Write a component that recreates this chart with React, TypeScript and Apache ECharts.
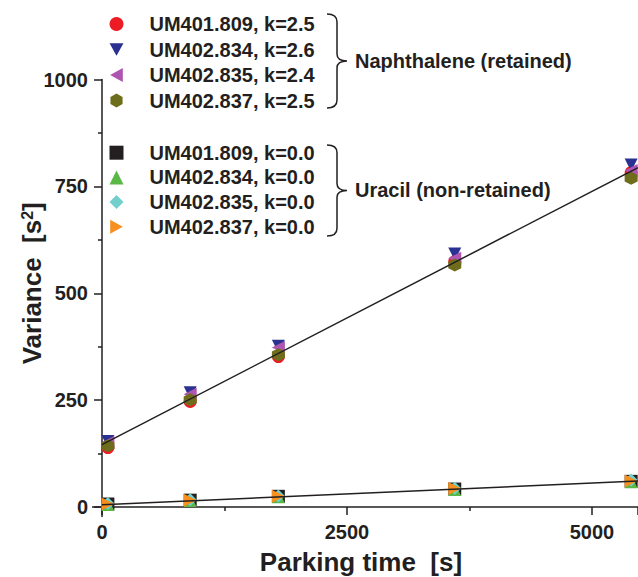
import React, { useEffect, useRef } from "react";
import * as echarts from "echarts";

// Parking time of the sample before elution [s]
const parkingTime = [60, 900, 1800, 3600, 5400];

// Retained compound (naphthalene), peak variance [s^2]
const naphNames = ["UM401.809, k=2.5", "UM402.834, k=2.6", "UM402.835, k=2.4", "UM402.837, k=2.5"];
const naph401_809 = [139, 247, 352, 574, 782];
const naph402_834 = [153, 267, 376, 592, 800];
const naph402_835 = [151, 264, 373, 582, 787];
const naph402_837 = [143, 251, 356, 566, 769];

// Non-retained marker (uracil), peak variance [s^2]
const uracilNames = ["UM401.809, k=0.0", "UM402.834, k=0.0", "UM402.835, k=0.0", "UM402.837, k=0.0"];
const ura401_809 = [7, 16, 25, 42, 60];
const ura402_834 = [6, 15, 24, 41, 59];
const ura402_835 = [8, 17, 26, 44, 63];
const ura402_837 = [7, 16, 25, 43, 61];

// Linear fits: end points of each line
const fitTime = [0, 5470];
const naphFit = [146, 794];
const uracilFit = [5, 61];

// Axis ranges
const xRange = [0, 5470];
const xStep = 2500;
const yRange = [0, 1000];
const yStep = 250;

const INK = "#231f20";
const FONT = "'Liberation Sans', Arial, Helvetica, sans-serif";

const naphColors = ["#ed1c24", "#2b3190", "#ad55b0", "#6e6d1c"];
const uracilColors = ["#231f20", "#5ab946", "#72cfcc", "#f7901e"];

const HEX = "path://M0,-1 L0.866,-0.5 L0.866,0.5 L0,1 L-0.866,0.5 L-0.866,-0.5 Z";
const DOWN = "path://M-1,-0.9 L1,-0.9 L0,0.9 Z";
const LEFT = "path://M-0.9,0 L0.9,-1 L0.9,1 Z";
const RIGHT = "path://M0.9,0 L-0.9,-1 L-0.9,1 Z";

const naphSymbols = ["circle", DOWN, LEFT, HEX];
const uracilSymbols = ["rect", "triangle", "diamond", RIGHT];

const naphValues = [naph401_809, naph402_834, naph402_835, naph402_837];
const uracilValues = [ura401_809, ura402_834, ura402_835, ura402_837];

// Plot frame
const GRID_LEFT = 102;
const GRID_TOP = 79.5;
const GRID_BOTTOM = 70;
const W = 638;
const H = 577;

let braceRegistered = false;
function registerBrace() {
  if (braceRegistered) return;
  // right-facing curly brace, 20 wide and 94 tall
  const d =
    "M0,0 C6,0 10,2 10,8 L10,40 C10,45 13,47 20,47 C13,47 10,49 10,54 L10,86 C10,92 6,94 0,94";
  echarts.graphic.registerShape("brace", echarts.graphic.extendPath(d, {}));
  braceRegistered = true;
}

function pairs(values: number[]) {
  return parkingTime.map((t, i) => [t, values[i]]);
}

export default function App() {
  const ref = useRef<HTMLDivElement>(null);

  useEffect(() => {
    if (!ref.current) return;
    registerBrace();
    const chart = echarts.init(ref.current, undefined, { renderer: "svg" });

    const scatter = (names: string[], values: number[][], colors: string[], symbols: string[]) =>
      names.map((name, i) => ({
        name,
        type: "scatter",
        data: pairs(values[i]),
        symbol: symbols[i],
        symbolSize: 13,
        itemStyle: { color: colors[i], opacity: 1 },
        z: 2,
      }));

    const fitLine = (values: number[]) => ({
      type: "line",
      data: fitTime.map((t, i) => [t, values[i]]),
      showSymbol: false,
      symbol: "none",
      lineStyle: { color: INK, width: 1.5 },
      z: 3,
      silent: true,
    });

    const legendBase = {
      orient: "vertical",
      left: 109.5,
      padding: 0,
      itemWidth: 14,
      itemHeight: 14,
      textStyle: {
        color: INK,
        fontFamily: FONT,
        fontWeight: "bold",
        fontSize: 20,
        lineHeight: 20,
        padding: [0, 0, 0, 21],
      },
      selectedMode: false,
    };

    const axisTitle = { color: INK, fontFamily: FONT, fontWeight: "bold" };
    const gridBottomY = H - GRID_BOTTOM;
    const plain = (v: number) => String(v);

    chart.setOption({
      animation: false,
      backgroundColor: "#ffffff",
      grid: {
        left: GRID_LEFT,
        right: 0,
        top: GRID_TOP,
        bottom: GRID_BOTTOM,
        containLabel: false,
        outerBoundsMode: "none",
      },
      legend: [
        { ...legendBase, top: 14, itemGap: 5.5, data: naphNames },
        { ...legendBase, top: 142.7, itemGap: 4.7, data: uracilNames },
      ],
      xAxis: {
        type: "value",
        min: xRange[0],
        max: xRange[1],
        interval: xStep,
        splitLine: { show: false },
        axisLine: { onZero: false, lineStyle: { color: INK, width: 1.5 } },
        axisTick: { inside: false, length: 8, lineStyle: { color: INK, width: 1.5 } },
        minorTick: { show: true, splitNumber: 2, length: 4, lineStyle: { color: INK, width: 1.5 } },
        axisLabel: {
          margin: 15,
          color: INK,
          fontFamily: FONT,
          fontWeight: "bold",
          fontSize: 20,
          showMaxLabel: false,
          formatter: plain,
        },
        name: "Parking time  [s]",
        nameLocation: "middle",
        nameGap: 42,
        nameTextStyle: { ...axisTitle, fontSize: 26, padding: [0, 18, 0, 0] },
      },
      yAxis: {
        type: "value",
        min: yRange[0],
        max: yRange[1],
        interval: yStep,
        splitLine: { show: false },
        axisLine: { onZero: false, lineStyle: { color: INK, width: 1.5 } },
        axisTick: { inside: false, length: 8, lineStyle: { color: INK, width: 1.5 } },
        minorTick: { show: true, splitNumber: 2, length: 4, lineStyle: { color: INK, width: 1.5 } },
        axisLabel: {
          margin: 14,
          color: INK,
          fontFamily: FONT,
          fontWeight: "bold",
          fontSize: 20,
          formatter: plain,
        },
        name: "Variance  [s{sup|2}]",
        nameLocation: "middle",
        nameRotate: 90,
        nameGap: 57,
        nameMoveOverlap: false,
        nameTextStyle: {
          ...axisTitle,
          fontSize: 26,
          padding: [0, 0, 0, 20],
          rich: {
            sup: {
              fontFamily: FONT,
              fontWeight: "bold",
              fontSize: 16,
              color: INK,
              verticalAlign: "top",
              padding: [0, 0, 8, 0],
            },
          },
        },
      },
      graphic: [
        // short axis-line stubs running past the origin
        {
          type: "line",
          shape: { x1: GRID_LEFT - 10, y1: gridBottomY, x2: GRID_LEFT, y2: gridBottomY },
          style: { stroke: INK, lineWidth: 1.5 },
        },
        {
          type: "line",
          shape: { x1: GRID_LEFT, y1: gridBottomY, x2: GRID_LEFT, y2: gridBottomY + 10 },
          style: { stroke: INK, lineWidth: 1.5 },
        },
        {
          type: "brace",
          x: 327,
          y: 14,
          style: { stroke: INK, lineWidth: 1.5, fill: "none" },
        },
        {
          type: "brace",
          x: 327,
          y: 145,
          scaleY: 0.968,
          style: { stroke: INK, lineWidth: 1.5, fill: "none" },
        },
        {
          type: "text",
          x: 355,
          y: 61,
          style: {
            text: "Naphthalene (retained)",
            fill: INK,
            font: `bold 20px ${FONT}`,
            verticalAlign: "middle",
          },
        },
        {
          type: "text",
          x: 355,
          y: 190,
          style: {
            text: "Uracil (non-retained)",
            fill: INK,
            font: `bold 20px ${FONT}`,
            verticalAlign: "middle",
          },
        },
      ],
      series: [
        ...scatter(naphNames, naphValues, naphColors, naphSymbols),
        ...scatter(uracilNames, uracilValues, uracilColors, uracilSymbols),
        fitLine(naphFit),
        fitLine(uracilFit),
      ],
    });

    return () => chart.dispose();
  }, []);

  return (
    <div
      ref={ref}
      style={{ position: "fixed", left: 0, top: 0, width: W, height: H, background: "#fff" }}
    />
  );
}
